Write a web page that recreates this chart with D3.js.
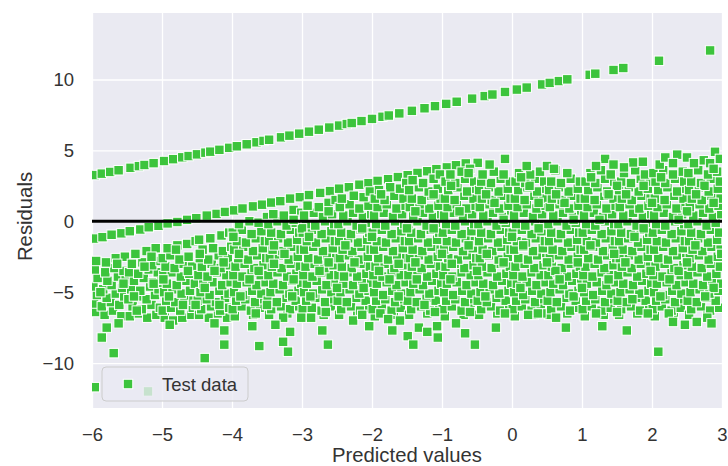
<!DOCTYPE html>
<html>
<head>
<meta charset="utf-8">
<script src="https://cdn.jsdelivr.net/npm/d3@7"></script>
<style>
html,body{margin:0;padding:0;background:#fff;}
svg{display:block;}
text{font-family:"Liberation Sans",Arial,sans-serif;}
</style>
</head>
<body>
<svg id="chart" width="728" height="466"></svg>
<script>
// ---- data ----
const xTicks = [-6,-5,-4,-3,-2,-1,0,1,2,3];
const yTicks = [-10,-5,0,5,10];
const xLabel = "Predicted values";
const yLabel = "Residuals";
const seriesName = "Test data";

// upper streak of residuals
const upperStreak = [[-5.96,3.26],[-5.86,3.36],[-5.74,3.48],[-5.62,3.60],[-5.45,3.77],[-5.33,3.89],[-5.25,3.97],[-5.12,4.10],[-4.97,4.25],[-4.84,4.38],[-4.71,4.51],[-4.62,4.60],[-4.50,4.72],[-4.38,4.84],[-4.31,4.91],[-4.18,5.04],[-4.04,5.18],[-3.93,5.29],[-3.79,5.43],[-3.65,5.57],[-3.55,5.67],[-3.47,5.75],[-3.30,5.92],[-3.18,6.04],[-3.04,6.18],[-2.90,6.32],[-2.76,6.46],[-2.61,6.61],[-2.47,6.75],[-2.36,6.86],[-2.29,6.93],[-2.15,7.07],[-2.00,7.22],[-1.85,7.37],[-1.76,7.46],[-1.61,7.61],[-1.43,7.79],[-1.25,7.97],[-1.10,8.12],[-0.94,8.28],[-0.79,8.43],[-0.57,8.65],[-0.39,8.83],[-0.28,8.94],[-0.10,9.12],[0.07,9.29],[0.21,9.43],[0.43,9.65],[0.54,9.76],[0.67,9.89],[0.79,10.01],[1.11,10.33],[1.19,10.41],[1.45,10.67],[1.59,10.81],[2.10,11.32],[2.83,12.05]];

// top edge streak of the main cloud
const edgeStreak = [[-5.97,-1.22],[-5.85,-1.12],[-5.72,-0.95],[-5.58,-0.85],[-5.46,-0.70],[-5.31,-0.58],[-5.19,-0.42],[-5.05,-0.32],[-4.92,-0.15],[-4.78,-0.05],[-4.64,0.10],[-4.51,0.22],[-4.36,0.40],[-4.22,0.52],[-4.10,0.66],[-3.97,0.77],[-3.85,0.90],[-3.70,1.05],[-3.57,1.17],[-3.44,1.32],[-3.31,1.42],[-3.17,1.60],[-3.03,1.70],[-2.90,1.85],[-2.74,2.00],[-2.60,2.13],[-2.47,2.30],[-2.33,2.40],[-2.18,2.58],[-2.05,2.69],[-1.92,2.85],[-1.77,2.97],[-1.63,3.12],[-1.49,3.25],[-1.35,3.41],[-1.21,3.53],[-1.08,3.68],[-0.93,3.80],[-0.80,3.95],[-0.66,4.08],[-0.49,4.12]];

// main cloud
const cloud = [
[-5.95,-6.4],[-5.82,-6.6],[-5.70,-6.3],[-5.58,-6.7],[-5.97,-5.8],[-5.86,-6.0],[-5.73,-5.7],[-5.61,-5.9],[-5.93,-5.2],[-5.79,-5.4],[-5.66,-5.1],[-5.54,-5.3],[-5.98,-4.6],[-5.84,-4.8],[-5.72,-4.5],[-5.57,-4.7],[-5.92,-4.0],[-5.78,-4.2],[-5.63,-3.9],[-5.52,-4.1],[-5.96,-3.4],[-5.81,-3.6],[-5.68,-3.3],[-5.55,-3.5],[-5.94,-2.8],[-5.80,-2.9],[-5.66,-2.6],[-5.53,-2.5],
[-5.46,-6.7],[-5.33,-6.5],[-5.21,-6.8],[-5.08,-6.6],[-5.42,-6.0],[-5.29,-6.2],[-5.15,-5.9],[-5.03,-6.1],[-5.48,-5.5],[-5.35,-5.3],[-5.22,-5.5],[-5.10,-5.2],[-5.44,-4.8],[-5.31,-4.9],[-5.17,-4.6],[-5.05,-4.8],[-5.40,-4.2],[-5.26,-4.0],[-5.13,-4.3],[-5.01,-4.1],[-5.47,-3.6],[-5.34,-3.7],[-5.19,-3.4],[-5.06,-3.6],[-5.43,-3.0],[-5.28,-2.9],[-5.14,-3.1],[-5.02,-2.8],[-5.38,-2.3],[-5.22,-2.1],[-5.09,-1.9],
[-4.96,-6.8],[-4.84,-7.0],[-4.71,-6.8],[-4.58,-6.6],[-4.99,-6.3],[-4.87,-6.1],[-4.74,-6.3],[-4.56,-6.1],[-4.94,-5.6],[-4.81,-5.7],[-4.68,-5.4],[-4.55,-5.6],[-4.97,-5.0],[-4.85,-4.8],[-4.72,-5.1],[-4.60,-4.9],[-4.93,-4.4],[-4.79,-4.5],[-4.65,-4.2],[-4.53,-4.4],[-4.98,-3.8],[-4.86,-3.6],[-4.73,-3.9],[-4.61,-3.7],[-4.95,-3.2],[-4.82,-3.3],[-4.69,-3.0],[-4.57,-3.2],[-4.99,-2.6],[-4.88,-2.4],[-4.75,-2.7],[-4.62,-2.5],[-4.92,-1.9],[-4.78,-1.7],[-4.64,-1.6],[-4.52,-1.4],
[-4.47,-6.6],[-4.33,-6.8],[-4.20,-6.5],[-4.07,-6.8],[-4.44,-6.2],[-4.30,-6.0],[-4.17,-6.3],[-4.04,-6.1],[-4.49,-5.6],[-4.36,-5.5],[-4.23,-5.7],[-4.10,-5.4],[-4.45,-5.0],[-4.32,-5.2],[-4.18,-4.9],[-4.05,-5.1],[-4.41,-4.4],[-4.28,-4.3],[-4.14,-4.5],[-4.02,-4.3],[-4.48,-3.8],[-4.35,-3.9],[-4.21,-3.6],[-4.08,-3.8],[-4.43,-3.2],[-4.29,-3.0],[-4.16,-3.3],[-4.03,-3.1],[-4.46,-2.6],[-4.34,-2.7],[-4.19,-2.4],[-4.06,-2.6],[-4.42,-2.0],[-4.27,-1.9],[-4.13,-2.1],[-4.01,-1.8],[-4.47,-1.3],[-4.31,-1.2],[-4.15,-1.0],[-4.04,-0.8],
[-3.96,-6.7],[-3.70,-6.6],[-3.99,-6.2],[-3.86,-6.0],[-3.73,-6.3],[-3.60,-6.1],[-3.94,-5.6],[-3.81,-5.5],[-3.67,-5.7],[-3.54,-5.5],[-3.97,-5.0],[-3.84,-5.2],[-3.71,-4.9],[-3.58,-5.1],[-3.93,-4.4],[-3.79,-4.3],[-3.65,-4.5],[-3.52,-4.3],[-3.98,-3.8],[-3.85,-3.9],[-3.72,-3.6],[-3.59,-3.8],[-3.95,-3.2],[-3.82,-3.0],[-3.68,-3.3],[-3.55,-3.1],[-3.91,-2.6],[-3.77,-2.7],[-3.64,-2.4],[-3.51,-2.6],[-3.97,-2.0],[-3.84,-1.8],[-3.70,-2.1],[-3.56,-1.9],[-3.93,-1.4],[-3.80,-1.5],[-3.66,-1.2],[-3.53,-1.4],[-3.99,-0.8],[-3.86,-0.6],[-3.72,-0.9],[-3.58,-0.7],[-3.90,-0.2],[-3.75,0.0],[-3.62,-0.1],[-3.50,0.3],
[-3.47,-6.6],[-3.21,-6.5],[-3.44,-6.2],[-3.30,-6.0],[-3.17,-6.2],[-3.04,-6.0],[-3.49,-5.6],[-3.36,-5.7],[-3.22,-5.4],[-3.09,-5.6],[-3.45,-5.0],[-3.32,-4.8],[-3.18,-5.1],[-3.05,-4.9],[-3.41,-4.4],[-3.27,-4.5],[-3.14,-4.2],[-3.01,-4.4],[-3.48,-3.8],[-3.35,-3.6],[-3.21,-3.9],[-3.08,-3.7],[-3.43,-3.2],[-3.29,-3.3],[-3.16,-3.0],[-3.03,-3.2],[-3.46,-2.6],[-3.33,-2.4],[-3.19,-2.7],[-3.06,-2.5],[-3.42,-2.0],[-3.28,-2.1],[-3.15,-1.8],[-3.02,-2.0],[-3.47,-1.4],[-3.34,-1.2],[-3.20,-1.5],[-3.07,-1.3],[-3.44,-0.8],[-3.30,-0.9],[-3.16,-0.6],[-3.04,-0.8],[-3.48,-0.2],[-3.35,0.0],[-3.22,-0.3],[-3.09,-0.1],[-3.41,0.5],[-3.26,0.4],[-3.12,0.8],[-3.01,0.6],
[-2.96,-6.7],[-2.69,-6.6],[-2.99,-6.2],[-2.86,-6.1],[-2.72,-6.3],[-2.59,-6.0],[-2.94,-5.6],[-2.81,-5.4],[-2.67,-5.7],[-2.54,-5.5],[-2.97,-5.0],[-2.84,-5.1],[-2.71,-4.8],[-2.58,-5.0],[-2.93,-4.4],[-2.79,-4.2],[-2.65,-4.5],[-2.52,-4.3],[-2.98,-3.8],[-2.85,-3.9],[-2.72,-3.6],[-2.59,-3.8],[-2.95,-3.2],[-2.82,-3.0],[-2.68,-3.3],[-2.55,-3.1],[-2.91,-2.6],[-2.77,-2.7],[-2.64,-2.4],[-2.51,-2.6],[-2.97,-2.0],[-2.84,-1.8],[-2.70,-2.1],[-2.56,-1.9],[-2.93,-1.4],[-2.80,-1.5],[-2.66,-1.2],[-2.53,-1.4],[-2.99,-0.8],[-2.86,-0.6],[-2.72,-0.9],[-2.58,-0.7],[-2.94,-0.2],[-2.81,-0.3],[-2.67,0.0],[-2.54,-0.2],[-2.97,0.4],[-2.83,0.6],[-2.70,0.3],[-2.57,0.5],[-2.92,1.1],[-2.76,1.0],[-2.62,1.3],[-2.52,1.5],
[-2.47,-6.6],[-2.21,-6.5],[-2.44,-6.2],[-2.30,-6.0],[-2.17,-6.3],[-2.04,-6.1],[-2.49,-5.6],[-2.36,-5.7],[-2.22,-5.4],[-2.09,-5.6],[-2.45,-5.0],[-2.32,-4.8],[-2.18,-5.1],[-2.05,-4.9],[-2.41,-4.4],[-2.27,-4.5],[-2.14,-4.2],[-2.01,-4.4],[-2.48,-3.8],[-2.35,-3.6],[-2.21,-3.9],[-2.08,-3.7],[-2.43,-3.2],[-2.29,-3.3],[-2.16,-3.0],[-2.03,-3.2],[-2.46,-2.6],[-2.33,-2.4],[-2.19,-2.7],[-2.06,-2.5],[-2.42,-2.0],[-2.28,-2.1],[-2.15,-1.8],[-2.02,-2.0],[-2.47,-1.4],[-2.34,-1.2],[-2.20,-1.5],[-2.07,-1.3],[-2.44,-0.8],[-2.30,-0.9],[-2.16,-0.6],[-2.04,-0.8],[-2.48,-0.2],[-2.35,0.0],[-2.22,-0.3],[-2.09,-0.1],[-2.41,0.4],[-2.27,0.6],[-2.13,0.3],[-2.01,0.5],[-2.46,1.0],[-2.32,1.2],[-2.18,0.9],[-2.05,1.1],[-2.43,1.6],[-2.26,1.8],[-2.12,1.7],[-2.03,2.1],
[-1.96,-6.7],[-1.69,-6.6],[-1.99,-6.2],[-1.86,-6.0],[-1.72,-6.3],[-1.59,-6.1],[-1.94,-5.6],[-1.81,-5.5],[-1.67,-5.7],[-1.54,-5.5],[-1.97,-5.0],[-1.84,-5.2],[-1.71,-4.9],[-1.58,-5.1],[-1.93,-4.4],[-1.79,-4.3],[-1.65,-4.5],[-1.52,-4.3],[-1.98,-3.8],[-1.85,-3.9],[-1.72,-3.6],[-1.59,-3.8],[-1.95,-3.2],[-1.82,-3.0],[-1.68,-3.3],[-1.55,-3.1],[-1.91,-2.6],[-1.77,-2.7],[-1.64,-2.4],[-1.51,-2.6],[-1.97,-2.0],[-1.84,-1.8],[-1.70,-2.1],[-1.56,-1.9],[-1.93,-1.4],[-1.80,-1.5],[-1.66,-1.2],[-1.53,-1.4],[-1.99,-0.8],[-1.86,-0.6],[-1.72,-0.9],[-1.58,-0.7],[-1.94,-0.2],[-1.81,-0.3],[-1.67,0.0],[-1.54,-0.2],[-1.97,0.4],[-1.83,0.6],[-1.70,0.3],[-1.57,0.5],[-1.92,1.0],[-1.79,1.2],[-1.65,0.9],[-1.52,1.1],[-1.96,1.6],[-1.82,1.5],[-1.68,1.8],[-1.55,1.6],[-1.90,2.2],[-1.74,2.4],[-1.60,2.3],[-1.51,2.7],
[-1.47,-6.6],[-1.21,-6.5],[-1.44,-6.2],[-1.30,-6.0],[-1.17,-6.3],[-1.04,-6.1],[-1.49,-5.6],[-1.36,-5.7],[-1.22,-5.4],[-1.09,-5.6],[-1.45,-5.0],[-1.32,-4.8],[-1.18,-5.1],[-1.05,-4.9],[-1.41,-4.4],[-1.27,-4.5],[-1.14,-4.2],[-1.01,-4.4],[-1.48,-3.8],[-1.35,-3.6],[-1.21,-3.9],[-1.08,-3.7],[-1.43,-3.2],[-1.29,-3.3],[-1.16,-3.0],[-1.03,-3.2],[-1.46,-2.6],[-1.33,-2.4],[-1.19,-2.7],[-1.06,-2.5],[-1.42,-2.0],[-1.28,-2.1],[-1.15,-1.8],[-1.02,-2.0],[-1.47,-1.4],[-1.34,-1.2],[-1.20,-1.5],[-1.07,-1.3],[-1.44,-0.8],[-1.30,-0.9],[-1.16,-0.6],[-1.04,-0.8],[-1.48,-0.2],[-1.35,0.0],[-1.22,-0.3],[-1.09,-0.1],[-1.41,0.4],[-1.27,0.6],[-1.13,0.3],[-1.01,0.5],[-1.46,1.0],[-1.32,1.2],[-1.18,0.9],[-1.05,1.1],[-1.43,1.6],[-1.29,1.5],[-1.15,1.8],[-1.02,1.6],[-1.47,2.2],[-1.33,2.4],[-1.19,2.1],[-1.06,2.3],[-1.42,2.9],[-1.27,2.7],[-1.12,3.0],[-1.03,3.3],
[-0.96,-6.7],[-0.69,-6.6],[-0.99,-6.2],[-0.86,-6.0],[-0.72,-6.3],[-0.59,-6.1],[-0.94,-5.6],[-0.81,-5.5],[-0.67,-5.7],[-0.54,-5.5],[-0.97,-5.0],[-0.84,-5.2],[-0.71,-4.9],[-0.58,-5.1],[-0.93,-4.4],[-0.79,-4.3],[-0.65,-4.5],[-0.52,-4.3],[-0.98,-3.8],[-0.85,-3.9],[-0.72,-3.6],[-0.59,-3.8],[-0.95,-3.2],[-0.82,-3.0],[-0.68,-3.3],[-0.55,-3.1],[-0.91,-2.6],[-0.77,-2.7],[-0.64,-2.4],[-0.51,-2.6],[-0.97,-2.0],[-0.84,-1.8],[-0.70,-2.1],[-0.56,-1.9],[-0.93,-1.4],[-0.80,-1.5],[-0.66,-1.2],[-0.53,-1.4],[-0.99,-0.8],[-0.86,-0.6],[-0.72,-0.9],[-0.58,-0.7],[-0.94,-0.2],[-0.81,-0.3],[-0.67,0.0],[-0.54,-0.2],[-0.97,0.4],[-0.83,0.6],[-0.70,0.3],[-0.57,0.5],[-0.92,1.0],[-0.79,1.2],[-0.65,0.9],[-0.52,1.1],[-0.96,1.6],[-0.82,1.5],[-0.68,1.8],[-0.55,1.6],[-0.91,2.2],[-0.78,2.4],[-0.64,2.1],[-0.51,2.3],[-0.95,2.8],[-0.81,2.7],[-0.67,3.0],[-0.54,2.8],[-0.88,3.3],[-0.72,3.5],[-0.60,3.7],
[-0.47,-6.6],[-0.21,-6.5],[-0.44,-6.2],[-0.30,-6.0],[-0.17,-6.3],[-0.04,-6.1],[-0.49,-5.6],[-0.36,-5.7],[-0.22,-5.4],[-0.09,-5.6],[-0.45,-5.0],[-0.32,-4.8],[-0.18,-5.1],[-0.05,-4.9],[-0.41,-4.4],[-0.27,-4.5],[-0.14,-4.2],[-0.01,-4.4],[-0.48,-3.8],[-0.35,-3.6],[-0.21,-3.9],[-0.08,-3.7],[-0.43,-3.2],[-0.29,-3.3],[-0.16,-3.0],[-0.03,-3.2],[-0.46,-2.6],[-0.33,-2.4],[-0.19,-2.7],[-0.06,-2.5],[-0.42,-2.0],[-0.28,-2.1],[-0.15,-1.8],[-0.02,-2.0],[-0.47,-1.4],[-0.34,-1.2],[-0.20,-1.5],[-0.07,-1.3],[-0.44,-0.8],[-0.30,-0.9],[-0.16,-0.6],[-0.04,-0.8],[-0.48,-0.2],[-0.35,0.0],[-0.22,-0.3],[-0.09,-0.1],[-0.41,0.4],[-0.27,0.6],[-0.13,0.3],[-0.01,0.5],[-0.46,1.0],[-0.32,1.2],[-0.18,0.9],[-0.05,1.1],[-0.43,1.6],[-0.29,1.5],[-0.15,1.8],[-0.02,1.6],[-0.47,2.2],[-0.33,2.4],[-0.19,2.1],[-0.06,2.3],[-0.44,2.8],[-0.30,2.7],[-0.16,3.0],[-0.03,2.8],[-0.42,3.3],[-0.26,3.5],[-0.12,3.3],[-0.10,4.4],[-0.32,4.0],
[0.04,-6.7],[0.31,-6.6],[0.01,-6.2],[0.14,-6.0],[0.28,-6.3],[0.41,-6.1],[0.06,-5.6],[0.19,-5.5],[0.33,-5.7],[0.46,-5.5],[0.03,-5.0],[0.16,-5.2],[0.29,-4.9],[0.42,-5.1],[0.07,-4.4],[0.21,-4.3],[0.35,-4.5],[0.48,-4.3],[0.02,-3.8],[0.15,-3.9],[0.28,-3.6],[0.41,-3.8],[0.05,-3.2],[0.18,-3.0],[0.32,-3.3],[0.45,-3.1],[0.09,-2.6],[0.23,-2.7],[0.36,-2.4],[0.49,-2.6],[0.03,-2.0],[0.16,-1.8],[0.30,-2.1],[0.44,-1.9],[0.07,-1.4],[0.20,-1.5],[0.34,-1.2],[0.47,-1.4],[0.01,-0.8],[0.14,-0.6],[0.28,-0.9],[0.42,-0.7],[0.06,-0.2],[0.19,-0.3],[0.33,0.0],[0.46,-0.2],[0.03,0.4],[0.17,0.6],[0.30,0.3],[0.43,0.5],[0.08,1.0],[0.21,1.2],[0.35,0.9],[0.48,1.1],[0.04,1.6],[0.18,1.5],[0.32,1.8],[0.45,1.6],[0.09,2.2],[0.22,2.4],[0.36,2.1],[0.49,2.3],[0.05,2.8],[0.19,2.7],[0.33,3.0],[0.46,2.8],[0.10,3.4],[0.26,3.3],[0.40,3.5],[0.21,3.9],[0.50,3.9],
[0.53,-6.6],[0.79,-6.5],[0.56,-6.2],[0.70,-6.0],[0.83,-6.3],[0.96,-6.1],[0.51,-5.6],[0.64,-5.7],[0.78,-5.4],[0.91,-5.6],[0.55,-5.0],[0.68,-4.8],[0.82,-5.1],[0.95,-4.9],[0.59,-4.4],[0.73,-4.5],[0.86,-4.2],[0.99,-4.4],[0.52,-3.8],[0.65,-3.6],[0.79,-3.9],[0.92,-3.7],[0.57,-3.2],[0.71,-3.3],[0.84,-3.0],[0.97,-3.2],[0.54,-2.6],[0.67,-2.4],[0.81,-2.7],[0.94,-2.5],[0.58,-2.0],[0.72,-2.1],[0.85,-1.8],[0.98,-2.0],[0.53,-1.4],[0.66,-1.2],[0.80,-1.5],[0.93,-1.3],[0.56,-0.8],[0.70,-0.9],[0.84,-0.6],[0.96,-0.8],[0.52,-0.2],[0.65,0.0],[0.78,-0.3],[0.91,-0.1],[0.59,0.4],[0.73,0.6],[0.87,0.3],[0.99,0.5],[0.54,1.0],[0.68,1.2],[0.82,0.9],[0.95,1.1],[0.57,1.6],[0.71,1.5],[0.85,1.8],[0.98,1.6],[0.53,2.2],[0.67,2.4],[0.81,2.1],[0.94,2.3],[0.56,2.8],[0.70,2.7],[0.84,3.0],[0.97,2.8],[0.62,3.6],[0.79,3.4],
[1.04,-6.7],[1.31,-6.6],[1.01,-6.2],[1.14,-6.0],[1.28,-6.3],[1.41,-6.1],[1.06,-5.6],[1.19,-5.5],[1.33,-5.7],[1.46,-5.5],[1.03,-5.0],[1.16,-5.2],[1.29,-4.9],[1.42,-5.1],[1.07,-4.4],[1.21,-4.3],[1.35,-4.5],[1.48,-4.3],[1.02,-3.8],[1.15,-3.9],[1.28,-3.6],[1.41,-3.8],[1.05,-3.2],[1.18,-3.0],[1.32,-3.3],[1.45,-3.1],[1.09,-2.6],[1.23,-2.7],[1.36,-2.4],[1.49,-2.6],[1.03,-2.0],[1.16,-1.8],[1.30,-2.1],[1.44,-1.9],[1.07,-1.4],[1.20,-1.5],[1.34,-1.2],[1.47,-1.4],[1.01,-0.8],[1.14,-0.6],[1.28,-0.9],[1.42,-0.7],[1.06,-0.2],[1.19,-0.3],[1.33,0.0],[1.46,-0.2],[1.03,0.4],[1.17,0.6],[1.30,0.3],[1.43,0.5],[1.08,1.0],[1.21,1.2],[1.35,0.9],[1.48,1.1],[1.04,1.6],[1.18,1.5],[1.32,1.8],[1.45,1.6],[1.09,2.2],[1.22,2.4],[1.36,2.1],[1.49,2.3],[1.05,2.8],[1.19,2.7],[1.33,3.0],[1.46,2.8],[1.12,3.4],[1.27,3.6],[1.41,3.3],[1.33,4.4],[1.45,4.0],[1.20,3.9],
[1.53,-6.6],[1.79,-6.5],[1.56,-6.2],[1.70,-6.0],[1.83,-6.3],[1.96,-6.1],[1.51,-5.6],[1.64,-5.7],[1.78,-5.4],[1.91,-5.6],[1.55,-5.0],[1.68,-4.8],[1.82,-5.1],[1.95,-4.9],[1.59,-4.4],[1.73,-4.5],[1.86,-4.2],[1.99,-4.4],[1.52,-3.8],[1.65,-3.6],[1.79,-3.9],[1.92,-3.7],[1.57,-3.2],[1.71,-3.3],[1.84,-3.0],[1.97,-3.2],[1.54,-2.6],[1.67,-2.4],[1.81,-2.7],[1.94,-2.5],[1.58,-2.0],[1.72,-2.1],[1.85,-1.8],[1.98,-2.0],[1.53,-1.4],[1.66,-1.2],[1.80,-1.5],[1.93,-1.3],[1.56,-0.8],[1.70,-0.9],[1.84,-0.6],[1.96,-0.8],[1.52,-0.2],[1.65,0.0],[1.78,-0.3],[1.91,-0.1],[1.59,0.4],[1.73,0.6],[1.87,0.3],[1.99,0.5],[1.54,1.0],[1.68,1.2],[1.82,0.9],[1.95,1.1],[1.57,1.6],[1.71,1.5],[1.85,1.8],[1.98,1.6],[1.53,2.2],[1.67,2.4],[1.81,2.1],[1.94,2.3],[1.56,2.8],[1.70,2.7],[1.84,3.0],[1.97,2.8],[1.60,3.4],[1.76,3.6],[1.90,3.3],[1.73,4.15],[1.87,4.2],
[2.04,-6.7],[2.31,-6.6],[2.01,-6.2],[2.14,-6.0],[2.28,-6.3],[2.41,-6.1],[2.06,-5.6],[2.19,-5.5],[2.33,-5.7],[2.46,-5.5],[2.03,-5.0],[2.16,-5.2],[2.29,-4.9],[2.42,-5.1],[2.07,-4.4],[2.21,-4.3],[2.35,-4.5],[2.48,-4.3],[2.02,-3.8],[2.15,-3.9],[2.28,-3.6],[2.41,-3.8],[2.05,-3.2],[2.18,-3.0],[2.32,-3.3],[2.45,-3.1],[2.09,-2.6],[2.23,-2.7],[2.36,-2.4],[2.49,-2.6],[2.03,-2.0],[2.16,-1.8],[2.30,-2.1],[2.44,-1.9],[2.07,-1.4],[2.20,-1.5],[2.34,-1.2],[2.47,-1.4],[2.01,-0.8],[2.14,-0.6],[2.28,-0.9],[2.42,-0.7],[2.06,-0.2],[2.19,-0.3],[2.33,0.0],[2.46,-0.2],[2.03,0.4],[2.17,0.6],[2.30,0.3],[2.43,0.5],[2.08,1.0],[2.21,1.2],[2.35,0.9],[2.48,1.1],[2.04,1.6],[2.18,1.5],[2.32,1.8],[2.45,1.6],[2.09,2.2],[2.22,2.4],[2.36,2.1],[2.49,2.3],[2.05,2.8],[2.19,2.7],[2.33,3.0],[2.46,2.8],[2.02,3.4],[2.16,3.6],[2.30,3.3],[2.44,3.5],[2.11,4.0],[2.19,4.5],[2.36,4.7],[2.50,4.5],
[2.53,-6.6],[2.79,-6.5],[2.56,-6.2],[2.70,-6.0],[2.83,-6.3],[2.96,-6.1],[2.51,-5.6],[2.64,-5.7],[2.78,-5.4],[2.91,-5.6],[2.55,-5.0],[2.68,-4.8],[2.82,-5.1],[2.95,-4.9],[2.59,-4.4],[2.73,-4.5],[2.86,-4.2],[2.99,-4.4],[2.52,-3.8],[2.65,-3.6],[2.79,-3.9],[2.92,-3.7],[2.57,-3.2],[2.71,-3.3],[2.84,-3.0],[2.97,-3.2],[2.54,-2.6],[2.67,-2.4],[2.81,-2.7],[2.94,-2.5],[2.58,-2.0],[2.72,-2.1],[2.85,-1.8],[2.98,-2.0],[2.53,-1.4],[2.66,-1.2],[2.80,-1.5],[2.93,-1.3],[2.56,-0.8],[2.70,-0.9],[2.84,-0.6],[2.96,-0.8],[2.52,-0.2],[2.65,0.0],[2.78,-0.3],[2.91,-0.1],[2.59,0.4],[2.73,0.6],[2.87,0.3],[2.99,0.5],[2.54,1.0],[2.68,1.2],[2.82,0.9],[2.95,1.1],[2.57,1.6],[2.71,1.5],[2.85,1.8],[2.98,1.6],[2.53,2.2],[2.67,2.4],[2.81,2.1],[2.94,2.3],[2.56,2.8],[2.70,2.7],[2.84,3.0],[2.97,2.8],[2.52,3.4],[2.66,3.6],[2.80,3.3],[2.93,3.5],[2.60,4.1],[2.74,4.3],[2.83,4.1],[2.90,4.9],[2.97,4.4]
];

// extra points between the rows of the cloud
const cloudFill = [
[-5.40,-5.3],[-5.12,-4.4],[-4.90,-5.3],[-4.63,-3.5],[-4.39,-4.7],[-4.12,-2.9],[-3.88,-5.3],[-3.62,-3.5],[-3.40,-1.7],[-3.12,-4.1],[-2.88,-5.3],[-2.62,-2.9],[-2.38,-1.7],[-2.12,-4.7],[-1.90,-3.5],[-1.62,-5.3],[-1.38,-2.9],[-1.12,-0.5],[-0.88,-4.1],[-0.62,-1.7],[-0.38,-5.3],[-0.12,-2.9],[0.12,-4.7],[0.38,-0.5],[0.62,-3.5],[0.88,-5.3],[1.12,-1.7],[1.38,-4.1],[1.62,-2.9],[1.88,-0.5],[2.12,-5.3],[2.38,-3.5],[2.62,-1.7],[2.88,-4.7],
[-5.55,-4.4],[-5.25,-3.2],[-4.80,-2.0],[-4.52,-5.9],[-4.25,-3.5],[-3.98,-1.1],[-3.75,-4.1],[-3.50,-5.9],[-3.25,-2.3],[-3.00,-0.5],[-2.75,-3.5],[-2.50,-4.7],[-2.25,-2.9],[-2.00,-1.1],[-1.75,-4.1],[-1.50,-0.5],[-1.25,-5.9],[-1.00,-2.3],[-0.75,0.7],[-0.50,-3.5],[-0.25,1.3],[0.00,-1.1],[0.25,2.5],[0.50,-2.9],[0.75,1.3],[1.00,-4.7],[1.25,0.1],[1.50,2.5],[1.75,-1.1],[2.00,1.3],[2.25,-4.1],[2.50,0.7],[2.75,2.5],[2.99,-2.3],
[-1.87,1.9],[-1.38,0.7],[-0.87,2.5],[-0.37,1.9],[0.13,3.1],[0.63,1.9],[1.13,3.1],[1.63,1.9],[2.13,3.1],[2.63,1.9],[2.88,3.7],[-2.62,0.7],[-3.12,0.1],[-0.12,0.1],[0.38,1.3],[0.88,0.1],[1.38,1.9],[1.88,2.5],[2.38,0.1],[2.88,1.3],[-1.12,1.9],[-0.62,3.4],[0.60,3.7],[1.60,3.8],[2.30,4.1],
[-5.88,-5.0],[-5.64,-3.0],[-5.36,-6.3],[-5.15,-2.5],[-4.98,-4.1],[-4.70,-5.9],[-4.46,-2.3],[-4.18,-5.9],[-3.90,-2.3],[-3.66,-6.5],[-3.40,-3.0],[-3.14,-5.3],[-2.90,-1.1],[-2.66,-6.4],[-2.40,-3.9],[-2.14,-0.5],[-1.88,-6.5],[-1.62,-3.0],[-1.36,-4.1],[-1.10,-6.4],[-0.86,-3.0],[-0.60,-6.4],[-0.36,-2.3],[-0.10,-6.5],[0.16,-1.7],[0.42,-6.5],[0.68,-4.1],[0.94,-2.9],[1.20,-6.5],[1.46,-2.3],[1.72,-5.5],[1.98,-3.5],[2.24,-6.5],[2.50,-2.9],[2.76,-5.3]
];

// scattered low residuals
const lowOutliers = [[-5.96,-11.7],[-5.86,-8.2],[-5.79,-7.5],[-5.69,-9.3],[-5.62,-7.2],[-5.20,-12.0],[-4.89,-7.3],[-4.39,-9.65],[-4.11,-8.7],[-4.11,-7.7],[-4.25,-7.2],[-3.71,-7.4],[-3.61,-8.8],[-3.27,-6.8],[-3.17,-7.8],[-3.27,-8.5],[-3.20,-9.2],[-3.38,-7.3],[-3.01,-6.8],[-2.87,-6.8],[-2.71,-7.7],[-2.63,-8.7],[-2.27,-7.0],[-2.14,-6.6],[-2.04,-7.4],[-1.77,-6.9],[-1.71,-7.7],[-1.60,-7.0],[-1.49,-8.1],[-1.41,-8.7],[-1.33,-7.5],[-1.21,-7.8],[-1.07,-7.4],[-1.06,-8.2],[-0.80,-7.2],[-0.67,-7.9],[-0.53,-8.7],[-0.23,-7.5],[0.23,-6.6],[0.37,-6.5],[0.63,-6.8],[0.77,-7.5],[1.29,-7.4],[1.50,-6.4],[1.64,-7.7],[1.94,-6.5],[2.09,-9.2],[2.30,-7.1],[2.47,-7.3],[2.64,-7.1],[2.79,-6.8],[2.85,-7.2]];

// ---- drawing ----
const W = 728, H = 466;
const m = {left: 92, right: 722, top: 13, bottom: 408};
const svg = d3.select("#chart");

const x = d3.scaleLinear().domain([-6, 3]).range([m.left, m.right]);
const y = d3.scaleLinear().domain([-13.17, 14.69]).range([m.bottom, m.top]);

const bg = "#EAEAF2";
const green = "#3CC43C";
const textCol = "#333333";
const font = '"Liberation Sans", Arial, sans-serif';

svg.append("rect").attr("x", m.left).attr("y", m.top)
  .attr("width", m.right - m.left).attr("height", m.bottom - m.top).attr("fill", bg);

svg.append("defs").append("clipPath").attr("id", "clip")
  .append("rect").attr("x", m.left).attr("y", m.top)
  .attr("width", m.right - m.left).attr("height", m.bottom - m.top);

const fmt = d => d3.format("")(d).replace("-", "\u2212");

const gx = svg.append("g").attr("transform", `translate(0,${m.bottom})`)
  .call(d3.axisBottom(x).tickValues(xTicks).tickSize(-(m.bottom - m.top)).tickFormat(fmt));
gx.select(".domain").remove();
gx.selectAll(".tick line").attr("stroke", "#fff").attr("stroke-width", 1.3);
gx.selectAll(".tick text").attr("fill", textCol).attr("font-size", 18.5)
  .attr("font-family", font).attr("dy", null).attr("y", 33);

const gy = svg.append("g").attr("transform", `translate(${m.left},0)`)
  .call(d3.axisLeft(y).tickValues(yTicks).tickSize(-(m.right - m.left)).tickFormat(fmt));
gy.select(".domain").remove();
gy.selectAll(".tick line").attr("stroke", "#fff").attr("stroke-width", 1.3);
gy.selectAll(".tick text").attr("fill", textCol).attr("font-size", 18.5)
  .attr("font-family", font).attr("dy", "0.34em").attr("x", -18);

// points
const allPts = upperStreak.concat(edgeStreak, cloud, cloudFill, lowOutliers);
const sz = 9.5;
const pts = svg.append("g").attr("clip-path", "url(#clip)");
pts.selectAll("rect").data(allPts).join("rect")
  .attr("x", d => x(d[0]) - sz / 2)
  .attr("y", d => y(d[1]) - sz / 2)
  .attr("width", sz).attr("height", sz)
  .attr("fill", green).attr("stroke", "#fff").attr("stroke-width", 1);

// zero line
svg.append("line").attr("x1", x(-6)).attr("x2", x(3)).attr("y1", y(0)).attr("y2", y(0))
  .attr("stroke", "#000").attr("stroke-width", 3);

// legend
const lg = svg.append("g");
lg.append("rect").attr("x", 102).attr("y", 367).attr("width", 146).attr("height", 34)
  .attr("rx", 4).attr("fill", bg).attr("fill-opacity", 0.8)
  .attr("stroke", "#cccccc").attr("stroke-width", 1);
lg.append("rect").attr("x", 128 - sz / 2).attr("y", 384 - sz / 2).attr("width", sz).attr("height", sz)
  .attr("fill", green).attr("stroke", "#fff").attr("stroke-width", 1);
lg.append("text").attr("x", 162).attr("y", 390.5).attr("font-size", 18.5)
  .attr("font-family", font).attr("fill", textCol).text(seriesName);

// axis labels
svg.append("text").attr("x", (m.left + m.right) / 2).attr("y", 462)
  .attr("text-anchor", "middle").attr("font-size", 20.3).attr("font-family", font)
  .attr("fill", textCol).text(xLabel);
svg.append("text").attr("transform", `translate(32,${(m.top + m.bottom) / 2 + 6}) rotate(-90)`)
  .attr("text-anchor", "middle").attr("font-size", 20.3).attr("font-family", font)
  .attr("fill", textCol).text(yLabel);
</script>
</body>
</html>
